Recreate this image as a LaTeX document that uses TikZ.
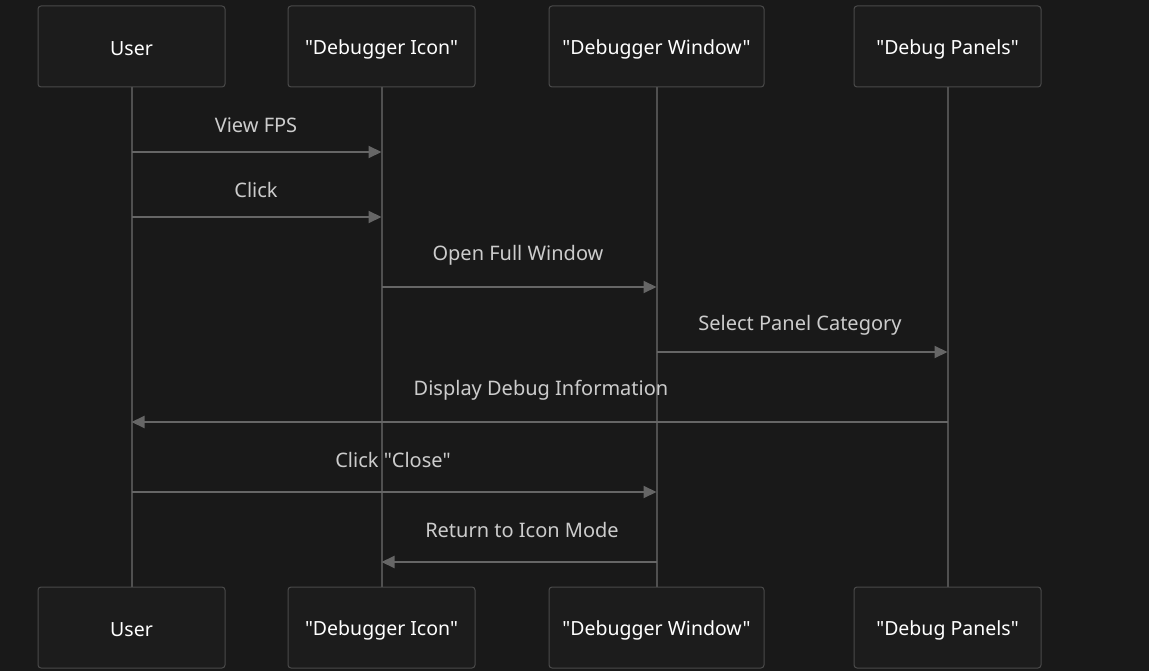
\documentclass[tikz,border=0pt]{standalone}
\usepackage{fontspec}
\newfontfamily\nf{Noto Sans}
\usetikzlibrary{arrows.meta}
\definecolor{bg}{HTML}{191919}
\definecolor{boxfill}{HTML}{1C1C1C}
\definecolor{boxline}{HTML}{4A4A4A}
\definecolor{lifeline}{HTML}{505050}
\definecolor{msgline}{HTML}{666666}
\definecolor{msgtext}{HTML}{CCCCCC}
\tikzset{
  actor/.style={draw=boxline, fill=boxfill, line width=1pt, rounded corners=3pt,
    minimum height=81pt, inner sep=0pt},
  atext/.style={text=white, font=\nf\fontsize{19.5}{22}\selectfont, inner sep=0pt},
  life/.style={draw=lifeline, line width=2pt},
  msg/.style={draw=msgline, line width=2pt, -{Triangle[length=13pt,width=12pt]}},
  lbl/.style={text=msgtext, font=\nf\fontsize{20}{23}\selectfont, inner sep=0pt}
}
\begin{document}
\begin{tikzpicture}[x=1pt,y=-1pt]
\fill[bg] (0,0) rectangle (1149,671);
\useasboundingbox (0,0) rectangle (1149,671);
% top actors
\node[actor, minimum width=187pt] (uT) at (131.5,46.5) {};
\node[actor, minimum width=187pt] (iT) at (381.5,46.5) {};
\node[actor, minimum width=215pt] (wT) at (656.5,46.5) {};
\node[actor, minimum width=187pt] (pT) at (947.5,46.5) {};
\node[atext] (uTt) at (131.5,49) {User};
\node[atext] (iTt) at (381.5,49) {"Debugger Icon"};
\node[atext] (wTt) at (656.5,49) {"Debugger Window"};
\node[atext] (pTt) at (947.5,49) {"Debug Panels"};
% bottom actors
\node[actor, minimum width=187pt] (uB) at (131.5,627.5) {};
\node[actor, minimum width=187pt] (iB) at (381.5,627.5) {};
\node[actor, minimum width=215pt] (wB) at (656.5,627.5) {};
\node[actor, minimum width=187pt] (pB) at (947.5,627.5) {};
\node[atext] (uBt) at (131.5,630) {User};
\node[atext] (iBt) at (381.5,630) {"Debugger Icon"};
\node[atext] (wBt) at (656.5,630) {"Debugger Window"};
\node[atext] (pBt) at (947.5,630) {"Debug Panels"};
% lifelines
\draw[life] (uT.south) -- (uB.north);
\draw[life] (iT.south) -- (iB.north);
\draw[life] (wT.south) -- (wB.north);
\draw[life] (pT.south) -- (pB.north);
% message anchor coordinates
\coordinate (u1) at (131.5,152); \coordinate (i1) at (381.5,152);
\coordinate (u2) at (131.5,217); \coordinate (i2) at (381.5,217);
\coordinate (i3) at (381.5,287); \coordinate (w3) at (656.5,287);
\coordinate (w4) at (656.5,352); \coordinate (p4) at (947.5,352);
\coordinate (p5) at (947.5,422); \coordinate (u5) at (131.5,422);
\coordinate (u6) at (131.5,492); \coordinate (w6) at (656.5,492);
\coordinate (w7) at (656.5,562); \coordinate (i7) at (381.5,562);
\draw[msg] (u1) -- (i1);
\draw[msg] (u2) -- (i2);
\draw[msg] (i3) -- (w3);
\draw[msg] (w4) -- (p4);
\draw[msg] (p5) -- (u5);
\draw[msg] (u6) -- (w6);
\draw[msg] (w7) -- (i7);
% labels
\node[lbl] (l1) at (256,125) {View FPS};
\node[lbl] (l2) at (256,190) {Click};
\node[lbl] (l3) at (518,255) {Open Full Window};
\node[lbl] (l4) at (800,325) {Select Panel Category};
\node[lbl] (l5) at (541,390) {Display Debug Information};
\node[lbl] (l6) at (393,460) {Click "Close"};
\node[lbl] (l7) at (522,530) {Return to Icon Mode};
\end{tikzpicture}
\end{document}
